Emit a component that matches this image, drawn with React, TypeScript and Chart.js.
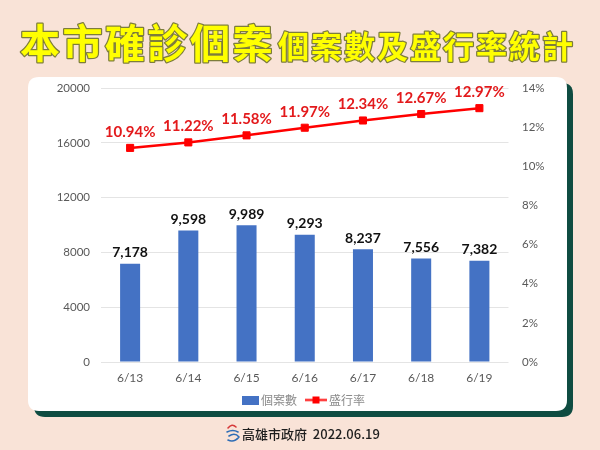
import React, { useEffect, useRef } from 'react';
import { Chart, registerables } from 'chart.js';

Chart.register(...registerables);

const categories = ['6/13', '6/14', '6/15', '6/16', '6/17', '6/18', '6/19'];
const caseCounts = [7178, 9598, 9989, 9293, 8237, 7556, 7382];
const prevalence = [10.94, 11.22, 11.58, 11.97, 12.34, 12.67, 12.97];
const caseAxis = { min: 0, max: 20000, step: 4000 };
const rateAxis = { min: 0, max: 14, step: 2 };
const seriesNames = ['個案數', '盛行率'];
const titleBig = '本市確診個案';
const titleSmall = '個案數及盛行率統計';
const footerText = '高雄市政府  2022.06.19';

const BAR_COLOR = '#4472c4';
const LINE_COLOR = '#ff0000';
const LABEL_RED = '#e31a1c';
const TICK_COLOR = '#595959';

function makeBarIcon(): HTMLCanvasElement {
  const c = document.createElement('canvas');
  c.width = 26; c.height = 9;
  const g = c.getContext('2d')!;
  g.fillStyle = BAR_COLOR;
  g.fillRect(9, 0, 17, 9);
  return c;
}
function makeLineIcon(): HTMLCanvasElement {
  const c = document.createElement('canvas');
  c.width = 26; c.height = 9;
  const g = c.getContext('2d')!;
  g.strokeStyle = LINE_COLOR;
  g.lineWidth = 2;
  g.beginPath(); g.moveTo(4, 4.5); g.lineTo(26, 4.5); g.stroke();
  g.fillStyle = LINE_COLOR;
  g.fillRect(11.5, 1, 7, 7);
  return c;
}

function roundRect(ctx: CanvasRenderingContext2D, x: number, y: number, w: number, h: number, r: number) {
  ctx.beginPath();
  ctx.moveTo(x + r, y);
  ctx.lineTo(x + w - r, y);
  ctx.quadraticCurveTo(x + w, y, x + w, y + r);
  ctx.lineTo(x + w, y + h - r);
  ctx.quadraticCurveTo(x + w, y + h, x + w - r, y + h);
  ctx.lineTo(x + r, y + h);
  ctx.quadraticCurveTo(x, y + h, x, y + h - r);
  ctx.lineTo(x, y + r);
  ctx.quadraticCurveTo(x, y, x + r, y);
  ctx.closePath();
}

const backgroundPlugin = {
  id: 'bgDecor',
  beforeDraw(chart: any) {
    const ctx: CanvasRenderingContext2D = chart.ctx;
    ctx.save();
    ctx.fillStyle = '#f9e3d7';
    ctx.fillRect(0, 0, chart.width, chart.height);
    // shadow / border
    ctx.fillStyle = '#0f4c41';
    roundRect(ctx, 34, 83, 539, 334, 11);
    ctx.fill();
    ctx.fillStyle = '#ffffff';
    roundRect(ctx, 28, 77, 539, 334, 11);
    ctx.fill();

    // title
    ctx.textBaseline = 'alphabetic';
    ctx.textAlign = 'left';
    ctx.lineJoin = 'round';
    (ctx as any).letterSpacing = '2.5px';
    ctx.font = '700 40px "Noto Sans CJK TC"';
    ctx.strokeStyle = '#7d7d3c';
    ctx.lineWidth = 2.5;
    ctx.strokeText(titleBig, 20, 58);
    ctx.fillStyle = '#ffff00';
    ctx.fillText(titleBig, 20, 58);
    (ctx as any).letterSpacing = '2px';
    ctx.font = '700 31px "Noto Sans CJK TC"';
    ctx.strokeText(titleSmall, 278, 58);
    ctx.fillText(titleSmall, 278, 58);
    (ctx as any).letterSpacing = '0px';

    // footer logo
    ctx.lineCap = 'round';
    ctx.strokeStyle = '#d63a3a';
    ctx.lineWidth = 1.6;
    ctx.beginPath();
    ctx.moveTo(228, 428); ctx.quadraticCurveTo(232, 423, 236, 427);
    ctx.stroke();
    ctx.strokeStyle = '#2f6db5';
    ctx.beginPath();
    ctx.moveTo(227, 432); ctx.quadraticCurveTo(233, 429, 238, 432);
    ctx.moveTo(229, 436); ctx.quadraticCurveTo(235, 432, 239, 437);
    ctx.quadraticCurveTo(234, 443, 228, 440);
    ctx.stroke();

    // footer text
    ctx.font = '500 13px "Noto Sans CJK TC"';
    ctx.fillStyle = '#1e1e1e';
    ctx.textBaseline = 'middle';
    ctx.fillText(footerText, 242, 434);
    ctx.restore();
  },
};

const dataLabelPlugin = {
  id: 'valueLabels',
  afterDatasetsDraw(chart: any) {
    const ctx: CanvasRenderingContext2D = chart.ctx;
    ctx.save();
    ctx.textAlign = 'center';
    ctx.textBaseline = 'alphabetic';
    const barMeta = chart.getDatasetMeta(0);
    ctx.font = 'bold 14px Lato';
    ctx.fillStyle = '#111111';
    barMeta.data.forEach((el: any, i: number) => {
      ctx.fillText(caseCounts[i].toLocaleString('en-US'), el.x, el.y - 6.5);
    });
    const lineMeta = chart.getDatasetMeta(1);
    ctx.font = 'bold 15px Lato';
    ctx.fillStyle = LABEL_RED;
    lineMeta.data.forEach((el: any, i: number) => {
      ctx.fillText(prevalence[i].toFixed(2) + '%', el.x, el.y - 11);
    });
    ctx.restore();
  },
};

export default function App() {
  const ref = useRef<HTMLCanvasElement>(null);
  useEffect(() => {
    const barIcon = makeBarIcon();
    const lineIcon = makeLineIcon();
    const chart = new Chart(ref.current!, {
      type: 'bar',
      data: {
        labels: categories,
        datasets: [
          {
            type: 'bar',
            label: seriesNames[0],
            data: caseCounts,
            backgroundColor: BAR_COLOR,
            borderWidth: 0,
            barPercentage: 0.344,
            categoryPercentage: 1,
            yAxisID: 'y',
            order: 2,
          },
          {
            type: 'line',
            label: seriesNames[1],
            data: prevalence,
            borderColor: LINE_COLOR,
            backgroundColor: LINE_COLOR,
            borderWidth: 2.5,
            pointStyle: 'rect',
            pointRadius: 5,
            pointBorderWidth: 1,
            pointBackgroundColor: LINE_COLOR,
            pointBorderColor: LINE_COLOR,
            tension: 0,
            yAxisID: 'y1',
            order: 1,
          } as any,
        ],
      },
      options: {
        responsive: false,
        animation: false,
        layout: { padding: { left: 30, right: 28, top: 88, bottom: 34 } },
        scales: {
          x: {
            grid: { display: false, drawTicks: false },
            border: { display: false },
            ticks: { color: TICK_COLOR, font: { family: 'Lato', size: 12 }, padding: 9 },
            afterFit(scale: any) { scale.height = 24; },
          },
          y: {
            position: 'left',
            min: caseAxis.min,
            max: caseAxis.max,
            grid: { color: '#e4e4e4', lineWidth: 1, drawTicks: false },
            border: { display: false },
            ticks: {
              stepSize: caseAxis.step,
              color: TICK_COLOR,
              font: { family: 'Lato', size: 11.5 },
              padding: 11,
              callback: (v: any) => String(v),
            },
            afterFit(scale: any) { scale.width = 71; },
          },
          y1: {
            position: 'right',
            min: rateAxis.min,
            max: rateAxis.max,
            grid: { display: false, drawTicks: false },
            border: { display: false },
            ticks: {
              stepSize: rateAxis.step,
              color: TICK_COLOR,
              font: { family: 'Lato', size: 11.5 },
              padding: 13.5,
              callback: (v: any) => v + '%',
            },
            afterFit(scale: any) { scale.width = 63.5; },
          },
        },
        plugins: {
          legend: {
            position: 'bottom',
            labels: {
              usePointStyle: true,
              pointStyleWidth: 18,
              boxHeight: 9,
              padding: 8,
              color: '#8a8a8a',
              font: { family: '"Noto Sans CJK TC"', size: 12 },
              sort: (a: any, b: any) => a.datasetIndex - b.datasetIndex,
              generateLabels: (c: any) => {
                const items = (Chart.defaults.plugins.legend.labels as any).generateLabels(c);
                items.forEach((it: any) => {
                  it.pointStyle = it.datasetIndex === 0 ? barIcon : lineIcon;
                });
                return items;
              },
            },
          },
          tooltip: { enabled: false },
        },
      } as any,
      plugins: [backgroundPlugin, dataLabelPlugin],
    });
    return () => chart.destroy();
  }, []);
  return (
    <div style={{ position: 'fixed', left: 0, top: 0, width: 600, height: 450 }}>
      <canvas ref={ref} width={600} height={450} style={{ display: 'block' }} />
    </div>
  );
}
